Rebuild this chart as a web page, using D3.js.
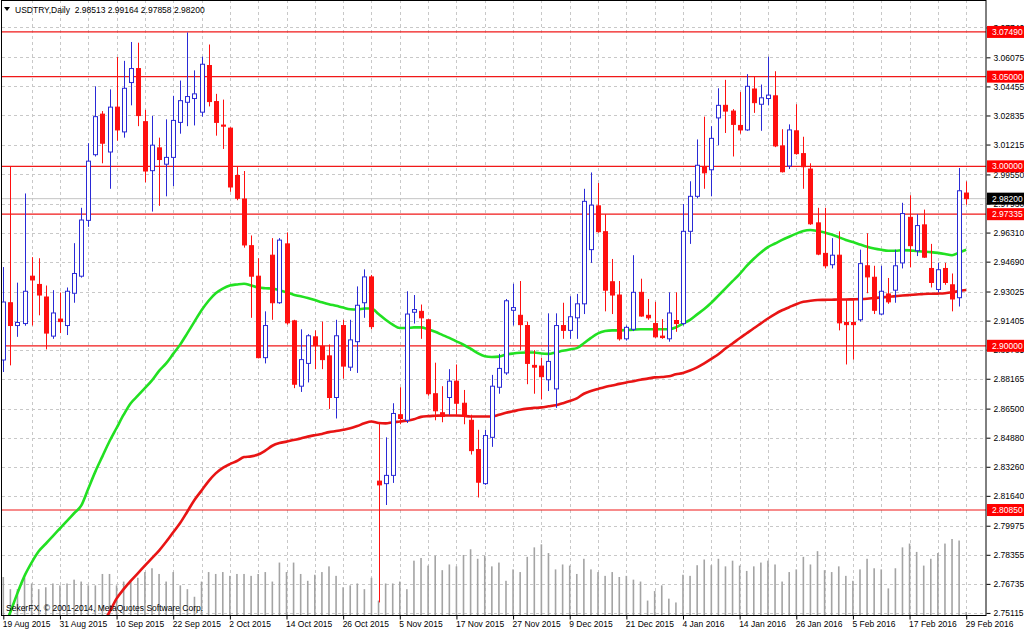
<!DOCTYPE html>
<html>
<head>
<meta charset="utf-8">
<script src="https://cdn.jsdelivr.net/npm/d3@7"></script>
<style>
  body { margin: 0; background: #fff; }
  text { font-family: Tahoma, "Liberation Sans", Arial, sans-serif; }
</style>
</head>
<body>
<div id="container"></div>
<script>

// USDTRY daily, 19 Aug 2015 - 29 Feb 2016 (one bar per trading day)
var dateLabels = ["19 Aug 2015", "31 Aug 2015", "10 Sep 2015", "22 Sep 2015", "2 Oct 2015", "14 Oct 2015",
  "26 Oct 2015", "5 Nov 2015", "17 Nov 2015", "27 Nov 2015", "9 Dec 2015", "21 Dec 2015",
  "4 Jan 2016", "14 Jan 2016", "26 Jan 2016", "5 Feb 2016", "17 Feb 2016", "29 Feb 2016"];

var priceTicks = [3.07740, 3.06075, 3.04455, 3.02835, 3.01215, 2.99550, 2.97930, 2.96310, 2.94690, 2.93025,
  2.91405, 2.89785, 2.88165, 2.86500, 2.84880, 2.83260, 2.81640, 2.79975, 2.78355, 2.76735, 2.75115];

var levelLines = [3.07490, 3.05000, 3.00000, 2.97335, 2.90000, 2.80850];
var bidPrice = 2.98200;

var open = [2.8921, 2.9240, 2.9113, 2.9124, 2.9388, 2.9342, 2.9272, 2.9054, 2.9149, 2.9113,
  2.9293, 2.9388, 2.9699, 3.0065, 3.0291, 3.0080, 3.0330, 3.0192, 3.0467, 3.0545,
  3.0249, 2.9976, 3.0103, 3.0012, 3.0050, 3.0245, 3.0357, 3.0378, 3.0302, 3.0562,
  3.0361, 3.0230, 3.0213, 2.9949, 2.9818, 2.9558, 2.9388, 2.8934, 2.9505, 2.9240,
  2.9568, 2.9139, 2.8775, 2.8902, 2.9050, 2.8997, 2.8944, 2.8712, 2.9113, 2.8881,
  2.9023, 2.9240, 2.9384, 2.8246, 2.8232, 2.8278, 2.8616, 2.8585, 2.9187, 2.9192,
  2.9145, 2.8733, 2.8627, 2.8712, 2.8803, 2.8680, 2.8585, 2.8422, 2.8232, 2.8490,
  2.8769, 2.8849, 2.9198, 2.9170, 2.9113, 2.8891, 2.8887, 2.8811, 2.8760, 2.9113,
  2.9086, 2.9156, 2.9234, 2.9536, 2.9780, 2.9636, 2.9357, 2.9283, 2.9039, 2.9092,
  2.9298, 2.9170, 2.9124, 2.9054, 2.9039, 2.9141, 2.9124, 2.9638, 2.9833, 2.9998,
  2.9981, 3.0270, 3.0340, 3.0308, 3.0228, 3.0203, 3.0431, 3.0346, 3.0378, 3.0393,
  3.0114, 3.0002, 3.0198, 3.0071, 2.9985, 2.9685, 2.9515, 2.9452, 2.9505, 2.9130,
  2.9130, 2.9145, 2.9446, 2.9382, 2.9177, 2.9289, 2.9310, 2.9462, 2.9716, 2.9530,
  2.9674, 2.9431, 2.9314, 2.9431, 2.9340, 2.9268, 2.98513];

var high = [2.9439, 3.0002, 2.9352, 2.9849, 2.9494, 2.9488, 2.9336, 2.9310, 2.9297, 2.9325,
  2.9572, 2.9769, 3.0129, 3.0446, 3.0308, 3.0429, 3.0609, 3.0588, 3.0693, 3.0689,
  3.0315, 3.0281, 3.0160, 3.0262, 3.0393, 3.0478, 3.0746, 3.0535, 3.0611, 3.0679,
  3.0404, 3.0372, 3.0218, 3.0002, 2.9974, 2.9615, 2.9488, 2.9192, 2.9600, 2.9600,
  2.9632, 2.9145, 2.9092, 2.9065, 2.9086, 2.9135, 2.9008, 2.9145, 2.9145, 2.9145,
  2.9331, 2.9426, 2.9395, 2.8574, 2.8490, 2.8680, 2.8769, 2.9304, 2.9283, 2.9230,
  2.9150, 2.8906, 2.8775, 2.8870, 2.8896, 2.8754, 2.8616, 2.8532, 2.8532, 2.8838,
  2.8955, 2.9261, 2.9346, 2.9361, 2.9135, 2.8976, 2.8934, 2.9181, 2.9181, 2.9240,
  2.9276, 2.9289, 2.9875, 2.9966, 2.9907, 2.9733, 2.9484, 2.9361, 2.9113, 2.9505,
  2.9374, 2.9261, 2.9245, 2.9149, 2.9298, 2.9298, 2.9790, 2.9917, 3.0150, 3.0277,
  3.0224, 3.0435, 3.0482, 3.0319, 3.0414, 3.0514, 3.0503, 3.0456, 3.0611, 3.0530,
  3.0207, 3.0234, 3.0346, 3.0165, 3.0017, 2.9769, 2.9769, 2.9600, 2.9638, 2.9261,
  2.9261, 2.9536, 2.9627, 2.9446, 2.9446, 2.9378, 2.9536, 2.9797, 2.9839, 2.9733,
  2.9759, 2.9568, 2.9462, 2.9462, 2.9403, 2.9991, 2.99164];

var low = [2.8854, 2.8891, 2.9050, 2.9112, 2.9113, 2.9170, 2.8980, 2.9039, 2.9071, 2.9060,
  2.9240, 2.9380, 2.9663, 3.0055, 3.0017, 2.9875, 3.0143, 3.0160, 3.0340, 3.0224,
  2.9911, 2.9748, 2.9780, 2.9833, 2.9890, 3.0182, 3.0224, 3.0228, 3.0277, 3.0334,
  3.0171, 3.0097, 2.9858, 2.9811, 2.9547, 2.9156, 2.8930, 2.8902, 2.9145, 2.9234,
  2.9118, 2.8764, 2.8743, 2.8796, 2.8870, 2.8870, 2.8648, 2.8595, 2.8817, 2.8860,
  2.8849, 2.9156, 2.9092, 2.7570, 2.8113, 2.8236, 2.8563, 2.8570, 2.9124, 2.9039,
  2.8722, 2.8585, 2.8574, 2.8616, 2.8616, 2.8563, 2.8394, 2.8155, 2.8225, 2.8437,
  2.8733, 2.8838, 2.9113, 2.8976, 2.8786, 2.8733, 2.8701, 2.8748, 2.8654, 2.9039,
  2.9039, 2.9039, 2.9177, 2.9462, 2.9630, 2.9192, 2.9177, 2.9029, 2.9029, 2.9082,
  2.9162, 2.9145, 2.9044, 2.9039, 2.9023, 2.9078, 2.9113, 2.9568, 2.9822, 2.9875,
  2.9833, 3.0118, 3.0186, 3.0055, 3.0182, 3.0198, 3.0298, 3.0198, 3.0340, 3.0107,
  2.9966, 2.9985, 3.0065, 2.9875, 2.9674, 2.9505, 2.9431, 2.9431, 2.9086, 2.8896,
  2.8923, 2.9135, 2.9293, 2.9177, 2.9170, 2.9234, 2.9240, 2.9431, 2.9437, 2.9500,
  2.9490, 2.9325, 2.9298, 2.9340, 2.9192, 2.9219, 2.97858];

var close = [2.9244, 2.9113, 2.9130, 2.9304, 2.9367, 2.9283, 2.9071, 2.9183, 2.9135, 2.9304,
  2.9403, 2.9701, 3.0029, 3.0277, 3.0129, 3.0330, 3.0203, 3.0435, 3.0545, 3.0283,
  2.9974, 3.0118, 3.0038, 3.0050, 3.0256, 3.0366, 3.0389, 3.0404, 3.0569, 3.0361,
  3.0245, 3.0224, 2.9885, 2.9822, 2.9562, 2.9388, 2.8934, 2.9113, 2.9240, 2.9589,
  2.9128, 2.8786, 2.8923, 2.9056, 2.9001, 2.8923, 2.8712, 2.9056, 2.8887, 2.9033,
  2.9226, 2.9384, 2.9107, 2.8225, 2.8278, 2.8623, 2.8595, 2.9177, 2.9202, 2.9156,
  2.8733, 2.8638, 2.8606, 2.8803, 2.8680, 2.8606, 2.8416, 2.8240, 2.8500, 2.8775,
  2.8874, 2.9251, 2.9213, 2.9118, 2.8902, 2.8881, 2.8828, 2.8913, 2.9113, 2.9086,
  2.9162, 2.9234, 2.9805, 2.9784, 2.9636, 2.9310, 2.9283, 2.9039, 2.9103, 2.9298,
  2.9166, 2.9156, 2.9050, 2.9046, 2.9183, 2.9124, 2.9638, 2.9833, 3.0006, 2.9964,
  3.0156, 3.0340, 3.0308, 3.0234, 3.0203, 3.0446, 3.0355, 3.0382, 3.0397, 3.0114,
  2.9970, 3.0203, 3.0071, 2.9998, 2.9680, 2.9511, 2.9446, 2.9505, 2.9128, 2.9118,
  2.9118, 2.9458, 2.9384, 2.9198, 2.9304, 2.9245, 2.9446, 2.9737, 2.9558, 2.9670,
  2.9494, 2.9353, 2.9424, 2.9353, 2.9261, 2.9864, 2.98200];

var volume = [1000, 680, 680, 980, 830, 680, 730, 830, 780, 830,
  930, 880, 780, 780, 1080, 1080, 780, 880, 880, 980,
  1130, 1230, 1080, 880, 1130, 780, 680, 480, 880, 1130,
  1080, 1130, 1030, 1080, 1080, 1030, 1080, 1130, 880, 1380,
  1130, 1380, 1080, 900, 1060, 1130, 1280, 1030, 730, 780,
  830, 680, 980, 380, 830, 830, 880, 680, 1430, 1500,
  1300, 1560, 1180, 1330, 1280, 1580, 1730, 1480, 1560, 1280,
  1380, 900, 1200, 1130, 1530, 1780, 1860, 1630, 1200, 1330,
  1300, 1080, 1480, 1200, 1130, 1030, 1130, 1000, 1030, 930,
  880, 380, 630, 780, 430, 330, 1060, 1030, 1310, 1460,
  1310, 1480, 1280, 1430, 1300, 1160, 1280, 1380, 1430, 1330,
  880, 1130, 1200, 1530, 1330, 1680, 1180, 1130, 1280, 1030,
  900, 1200, 1480, 1230, 1200, 700, 1230, 1780, 1880, 1660,
  1300, 1480, 1630, 1880, 2000, 1960, 80];

// moving averages as drawn on the chart (green = fast, red = slow)
var maFast = [2.7420, 2.7517, 2.7622, 2.7718, 2.7792, 2.7855, 2.7897, 2.7940, 2.7982, 2.8024,
  2.8067, 2.8109, 2.8204, 2.8299, 2.8384, 2.8468, 2.8542, 2.8616, 2.8680, 2.8722,
  2.8764, 2.8807, 2.8860, 2.8902, 2.8955, 2.9008, 2.9071, 2.9135, 2.9198, 2.9251,
  2.9293, 2.9319, 2.9336, 2.9342, 2.9346, 2.9336, 2.9325, 2.9321, 2.9319, 2.9310,
  2.9298, 2.9285, 2.9276, 2.9266, 2.9255, 2.9243, 2.9232, 2.9223, 2.9213, 2.9204,
  2.9202, 2.9208, 2.9208, 2.9177, 2.9145, 2.9118, 2.9099, 2.9099, 2.9103, 2.9103,
  2.9092, 2.9078, 2.9061, 2.9044, 2.9025, 2.9006, 2.8984, 2.8959, 2.8942, 2.8938,
  2.8940, 2.8951, 2.8957, 2.8961, 2.8963, 2.8963, 2.8957, 2.8955, 2.8963, 2.8972,
  2.8980, 2.8987, 2.9014, 2.9044, 2.9069, 2.9082, 2.9086, 2.9086, 2.9088, 2.9090,
  2.9092, 2.9092, 2.9092, 2.9092, 2.9092, 2.9103, 2.9124, 2.9145, 2.9175, 2.9205,
  2.9240, 2.9280, 2.9320, 2.9360, 2.9400, 2.9445, 2.9485, 2.9520, 2.9550, 2.9570,
  2.9590, 2.9608, 2.9625, 2.9640, 2.9645, 2.9640, 2.9632, 2.9620, 2.9605, 2.9590,
  2.9578, 2.9565, 2.9552, 2.9542, 2.9535, 2.9530, 2.9530, 2.9533, 2.9532, 2.9528,
  2.9525, 2.9522, 2.9518, 2.9512, 2.9505, 2.9520, 2.9535];

var maSlow = [null, null, null, null, null, null, null, null, null, null,
  null, null, null, null, 2.7450, 2.7517, 2.7591, 2.7644, 2.7690, 2.7732,
  2.7775, 2.7817, 2.7859, 2.7908, 2.7961, 2.8014, 2.8077, 2.8141, 2.8193, 2.8246,
  2.8289, 2.8320, 2.8341, 2.8358, 2.8380, 2.8384, 2.8394, 2.8416, 2.8443, 2.8458,
  2.8466, 2.8475, 2.8483, 2.8494, 2.8502, 2.8509, 2.8519, 2.8525, 2.8532, 2.8540,
  2.8553, 2.8568, 2.8578, 2.8570, 2.8568, 2.8574, 2.8578, 2.8583, 2.8591, 2.8604,
  2.8608, 2.8610, 2.8612, 2.8612, 2.8612, 2.8610, 2.8606, 2.8606, 2.8606, 2.8606,
  2.8616, 2.8627, 2.8635, 2.8644, 2.8650, 2.8654, 2.8657, 2.8663, 2.8669, 2.8680,
  2.8692, 2.8707, 2.8733, 2.8748, 2.8760, 2.8771, 2.8779, 2.8788, 2.8796, 2.8803,
  2.8811, 2.8817, 2.8824, 2.8826, 2.8830, 2.8841, 2.8849, 2.8862, 2.8880, 2.8902,
  2.8927, 2.8953, 2.8985, 2.9013, 2.9042, 2.9070, 2.9098, 2.9125, 2.9152, 2.9177,
  2.9198, 2.9215, 2.9232, 2.9245, 2.9251, 2.9255, 2.9256, 2.9257, 2.9258, 2.9258,
  2.9259, 2.9260, 2.9262, 2.9266, 2.9270, 2.9273, 2.9277, 2.9280, 2.9283, 2.9286,
  2.9289, 2.9290, 2.9291, 2.9293, 2.9298, 2.9305, 2.9311];

var title = "USDTRY,Daily  2.98513 2.99164 2.97858 2.98200";
var copyright = "SekerFX, \u00a9 2001-2014, MetaQuotes Software Corp.";

var width = 1024, height = 631;
var plotLeft = 2, plotRight = 986, plotTop = 0, plotBottom = 615;

var bars = d3.range(open.length);

var svg = d3.select("div#container")
  .append("svg")
  .attr("width", width)
  .attr("height", height)
  .style("display", "block");

svg.append("rect").attr("width", width).attr("height", height).attr("fill", "#fff");

var x = d3.scaleLinear().domain([0, 136]).range([3.3, 966.2]);
var y = d3.scaleLinear().domain([2.7500, 3.0927]).range([plotBottom, plotTop]);
var vy = d3.scaleLinear().domain([0, 5000]).range([plotBottom, plotBottom - 190]);

svg.append("clipPath").attr("id", "plotclip")
  .append("rect")
  .attr("x", plotLeft).attr("y", plotTop + 1)
  .attr("width", plotRight - plotLeft).attr("height", plotBottom - plotTop - 1);

var plot = svg.append("g").attr("clip-path", "url(#plotclip)");

// grid
plot.selectAll("line.hgrid").data(priceTicks).enter().append("line")
  .attr("x1", plotLeft).attr("x2", plotRight)
  .attr("y1", function(d) { return Math.round(y(d)) + 0.5; })
  .attr("y2", function(d) { return Math.round(y(d)) + 0.5; })
  .attr("stroke", "#c8c8c8").attr("stroke-dasharray", "3,3");

plot.selectAll("line.vgrid").data(d3.range(4, 137, 4)).enter().append("line")
  .attr("x1", function(d) { return Math.round(x(d)) + 0.5; })
  .attr("x2", function(d) { return Math.round(x(d)) + 0.5; })
  .attr("y1", plotTop).attr("y2", plotBottom)
  .attr("stroke", "#c8c8c8").attr("stroke-dasharray", "3,3");

// volumes
plot.selectAll("rect.vol").data(bars).enter().append("rect")
  .attr("x", function(i) { return x(i) - 0.8; })
  .attr("y", function(i) { return vy(volume[i]); })
  .attr("width", 1.6)
  .attr("height", function(i) { return plotBottom - vy(volume[i]); })
  .attr("fill", "#a4a4a4");

// bid line
plot.append("line")
  .attr("x1", plotLeft).attr("x2", plotRight)
  .attr("y1", y(bidPrice)).attr("y2", y(bidPrice))
  .attr("stroke", "#c4c4c4").attr("stroke-width", 1);

// horizontal levels
plot.selectAll("line.level").data(levelLines).enter().append("line")
  .attr("x1", plotLeft).attr("x2", plotRight)
  .attr("y1", function(d) { return y(d); })
  .attr("y2", function(d) { return y(d); })
  .attr("stroke", "#f01818").attr("stroke-width", 1.2);

// moving averages
var maLine = function(arr) {
  return d3.line()
    .defined(function(i) { return arr[i] !== null; })
    .x(function(i) { return x(i); })
    .y(function(i) { return y(arr[i]); })
    .curve(d3.curveMonotoneX);
};

plot.append("path").datum(bars)
  .attr("d", maLine(maSlow))
  .attr("fill", "none").attr("stroke", "#e81414").attr("stroke-width", 2.6);

plot.append("path").datum(bars)
  .attr("d", maLine(maFast))
  .attr("fill", "none").attr("stroke", "#22e022").attr("stroke-width", 2.6);

// candles
var up = "#2a2ad6", down = "#ff1010";

var candle = plot.selectAll("g.candle").data(bars).enter().append("g");

candle.append("line")
  .attr("x1", function(i) { return Math.round(x(i)) + 0.5; })
  .attr("x2", function(i) { return Math.round(x(i)) + 0.5; })
  .attr("y1", function(i) { return y(high[i]); })
  .attr("y2", function(i) { return y(low[i]); })
  .attr("stroke", function(i) { return close[i] >= open[i] ? up : down; })
  .attr("stroke-width", 1);

candle.append("rect")
  .attr("x", function(i) { return Math.round(x(i)) - 1.5; })
  .attr("y", function(i) { return y(Math.max(open[i], close[i])); })
  .attr("width", 4)
  .attr("height", function(i) { return Math.max(1, Math.abs(y(open[i]) - y(close[i]))); })
  .attr("fill", function(i) { return close[i] >= open[i] ? "#fff" : down; })
  .attr("stroke", function(i) { return close[i] >= open[i] ? up : down; })
  .attr("stroke-width", 1);

// frame
svg.append("rect")
  .attr("x", plotLeft - 0.5).attr("y", plotTop + 0.5)
  .attr("width", plotRight - plotLeft + 0.5).attr("height", plotBottom - plotTop)
  .attr("fill", "none").attr("stroke", "#000").attr("stroke-width", 1);

// price axis
var yAxis = svg.append("g")
  .attr("transform", "translate(" + (plotRight + 0.5) + ",0)")
  .call(d3.axisRight(y).tickValues(priceTicks).tickSize(4).tickPadding(3).tickFormat(d3.format(".5f")));
yAxis.select(".domain").remove();
yAxis.selectAll("text").style("font-size", "8.5px").attr("fill", "#000");
yAxis.selectAll("line").attr("stroke", "#000");

// level labels
var tags = svg.selectAll("g.tag").data(levelLines).enter().append("g")
  .attr("transform", function(d) { return "translate(" + (plotRight + 1) + "," + y(d) + ")"; });
tags.append("rect").attr("x", 0).attr("y", -6).attr("width", 37).attr("height", 12).attr("fill", "#ff0000");
tags.append("text").attr("x", 5).attr("dy", "0.35em")
  .style("font-size", "8.5px").attr("fill", "#fff")
  .text(function(d) { return d3.format(".5f")(d); });

var bidTag = svg.append("g").attr("transform", "translate(" + (plotRight + 1) + "," + y(bidPrice) + ")");
bidTag.append("rect").attr("x", 0).attr("y", -6).attr("width", 37).attr("height", 12).attr("fill", "#000");
bidTag.append("text").attr("x", 5).attr("dy", "0.35em")
  .style("font-size", "8.5px").attr("fill", "#fff")
  .text(d3.format(".5f")(bidPrice));

// date axis
var xAxis = svg.append("g")
  .attr("transform", "translate(0," + (plotBottom + 0.5) + ")")
  .call(d3.axisBottom(x).tickValues(d3.range(0, 137, 8)).tickSize(4)
    .tickFormat(function(i) { return dateLabels[i / 8]; }));
xAxis.select(".domain").remove();
xAxis.selectAll("line").attr("stroke", "#000");
xAxis.selectAll("text")
  .attr("text-anchor", "start").attr("y", 5).attr("dx", -1)
  .style("font-size", "8.5px").attr("fill", "#000");

// title
svg.append("path").attr("d", "M4,7 L10,7 L7,11 Z").attr("fill", "#000");
svg.append("text").attr("x", 15).attr("y", 13)
  .style("font-size", "8.5px").attr("fill", "#000")
  .attr("xml:space", "preserve").style("white-space", "pre")
  .text(title);

svg.append("text").attr("x", 6).attr("y", 611)
  .style("font-size", "8.5px").attr("fill", "#000")
  .text(copyright);

</script>
</body>
</html>
